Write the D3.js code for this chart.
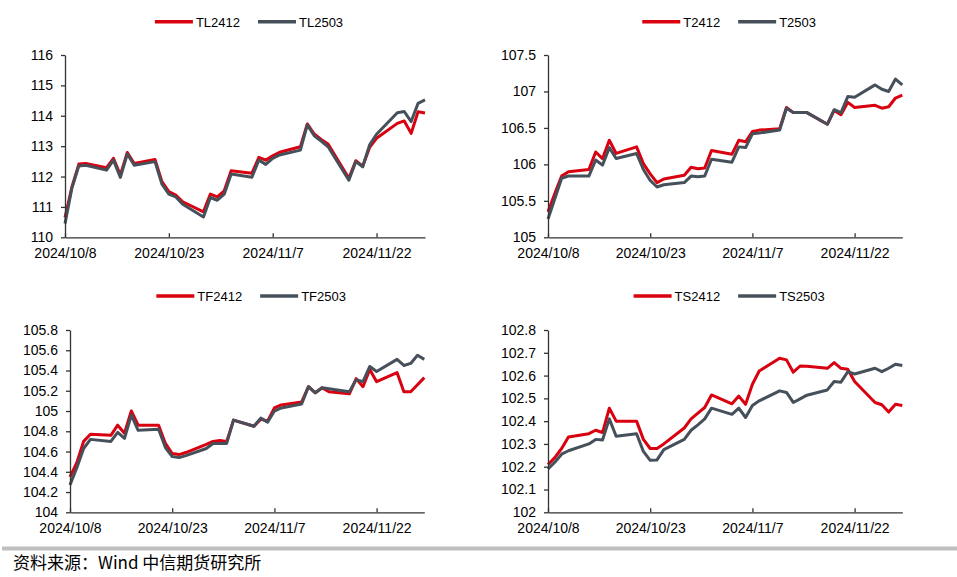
<!DOCTYPE html>
<html><head><meta charset="utf-8">
<script src="https://cdn.jsdelivr.net/npm/d3@7"></script>
<style>body{margin:0;background:#fff}svg{display:block}</style>
</head><body><svg id="c" width="957" height="577"></svg>
<script>
const dates = ["2024-10-08","2024-10-09","2024-10-10","2024-10-11","2024-10-14","2024-10-15","2024-10-16","2024-10-17","2024-10-18",
"2024-10-21","2024-10-22","2024-10-23","2024-10-24","2024-10-25","2024-10-28","2024-10-29","2024-10-30","2024-10-31","2024-11-01",
"2024-11-04","2024-11-05","2024-11-06","2024-11-07","2024-11-08","2024-11-11","2024-11-12","2024-11-13","2024-11-14","2024-11-15",
"2024-11-18","2024-11-19","2024-11-20","2024-11-21","2024-11-22","2024-11-25","2024-11-26","2024-11-27","2024-11-28","2024-11-29"];

const TL2412 = [110.65,111.66,112.41,112.43,112.29,112.60,112.05,112.79,112.43,112.56,111.83,111.50,111.39,111.17,110.84,111.42,111.33,111.53,112.19,
112.11,112.63,112.54,112.68,112.80,112.98,113.73,113.40,113.22,113.07,111.94,112.52,112.34,112.96,113.26,113.75,113.83,113.42,114.13,114.09];
const TL2503 = [110.45,111.62,112.35,112.37,112.21,112.54,111.97,112.74,112.37,112.49,111.75,111.42,111.33,111.09,110.67,111.31,111.22,111.42,112.08,
111.98,112.54,112.40,112.60,112.71,112.87,113.70,113.34,113.17,112.98,111.88,112.49,112.32,113.04,113.39,114.10,114.14,113.81,114.41,114.52];

const T2412 = [105.35,105.60,105.84,105.90,105.93,106.17,106.08,106.33,106.15,106.24,106.01,105.87,105.75,105.80,105.85,105.96,105.94,105.95,106.19,
106.14,106.33,106.31,106.45,106.47,106.49,106.78,106.71,106.71,106.71,106.55,106.74,106.68,106.85,106.78,106.81,106.77,106.79,106.91,106.95];
const T2503 = [105.25,105.53,105.81,105.84,105.84,106.06,105.99,106.23,106.08,106.15,105.93,105.78,105.69,105.72,105.75,105.84,105.83,105.84,106.07,
106.03,106.24,106.23,106.42,106.43,106.47,106.77,106.71,106.71,106.71,106.55,106.75,106.71,106.93,106.92,107.09,107.03,107.00,107.17,107.09];

const TF2412 = [104.35,104.49,104.70,104.77,104.76,104.86,104.78,105.00,104.86,104.86,104.68,104.58,104.57,104.59,104.67,104.70,104.71,104.70,104.91,
104.85,104.92,104.90,105.03,105.06,105.09,105.24,105.18,105.23,105.19,105.17,105.32,105.24,105.41,105.29,105.38,105.19,105.19,105.26,105.33];
const TF2503 = [104.27,104.44,104.63,104.72,104.70,104.79,104.73,104.96,104.81,104.82,104.64,104.55,104.54,104.56,104.63,104.68,104.68,104.68,104.91,
104.85,104.93,104.89,105.00,105.03,105.07,105.24,105.18,105.23,105.22,105.19,105.31,105.29,105.44,105.39,105.51,105.45,105.47,105.55,105.51];

const TS2412 = [102.21,102.24,102.28,102.33,102.345,102.36,102.35,102.457,102.40,102.40,102.32,102.28,102.28,102.30,102.37,102.41,102.435,102.46,102.515,
102.476,102.51,102.474,102.562,102.62,102.676,102.669,102.615,102.642,102.641,102.632,102.657,102.632,102.628,102.574,102.482,102.472,102.44,102.474,102.469];
const TS2503 = [102.19,102.22,102.255,102.27,102.30,102.32,102.317,102.41,102.334,102.345,102.267,102.228,102.23,102.275,102.32,102.36,102.384,102.41,102.457,
102.43,102.457,102.416,102.469,102.489,102.533,102.526,102.482,102.498,102.514,102.537,102.574,102.571,102.617,102.607,102.632,102.617,102.632,102.65,102.644];

const xTickDates = ["2024-10-08","2024-10-23","2024-11-07","2024-11-22"];
const xTickLabels = ["2024/10/8","2024/10/23","2024/11/7","2024/11/22"];
const xDomain = ["2024-10-08","2024-11-29"];

const yTicksTL = [110,111,112,113,114,115,116];
const yTicksT = [105,105.5,106,106.5,107,107.5];
const yTicksTF = [104,104.2,104.4,104.6,104.8,105,105.2,105.4,105.6,105.8];
const yTicksTS = [102,102.1,102.2,102.3,102.4,102.5,102.6,102.7,102.8];

const seriesNames = [["TL2412","TL2503"],["T2412","T2503"],["TF2412","TF2503"],["TS2412","TS2503"]];
const seriesValues = [[TL2412,TL2503],[T2412,T2503],[TF2412,TF2503],[TS2412,TS2503]];
const yTickSets = [yTicksTL,yTicksT,yTicksTF,yTicksTS];
const sourceText = "资料来源：Wind 中信期货研究所";

const colors = ["#d9000f","#46505b"];
const FONT = "'Liberation Sans', Arial, sans-serif";

const svg = d3.select("#c");
const parse = d3.timeParse("%Y-%m-%d");
const dts = dates.map(parse);

const boxes = [
  {l:65, r:425, t:55, b:237.3, ly:21.7},
  {l:548, r:902.3, t:55, b:237.3, ly:21.7},
  {l:70, r:424.3, t:330, b:512.3, ly:296},
  {l:548, r:902.3, t:330, b:512.3, ly:296}
];

boxes.forEach((bx, i) => {
  const g = svg.append("g");
  const yt = yTickSets[i];
  const x = d3.scaleTime().domain(xDomain.map(parse)).range([bx.l, bx.r]);
  const y = d3.scaleLinear().domain([yt[0], yt[yt.length-1]]).range([bx.b, bx.t]);

  const line = d3.line().x((d,k)=>x(dts[k])).y(d=>y(d));
  seriesValues[i].forEach((vals, s) => {
    g.append("path").datum(vals).attr("d", line)
      .attr("fill","none").attr("stroke",colors[s]).attr("stroke-width",3)
      .attr("stroke-linejoin","round");
  });

  const xa = g.append("g").attr("transform",`translate(0,${bx.b})`)
    .call(d3.axisBottom(x).tickValues(xTickDates.map(parse))
      .tickFormat((d,k)=>xTickLabels[k]).tickSizeInner(-4).tickSizeOuter(0).tickPadding(11));
  const ya = g.append("g").attr("transform",`translate(${bx.l},0)`)
    .call(d3.axisLeft(y).tickValues(yt).tickFormat(d=>String(+d.toFixed(2)))
      .tickSizeInner(4).tickSizeOuter(0).tickPadding(8));
  [xa, ya].forEach(a => {
    a.selectAll("path,line").attr("stroke","#333").attr("stroke-width",1.3);
    a.selectAll("text").attr("font-family",FONT).attr("font-size",14).attr("fill","#000");
  });

  // legend
  const lg = g.append("g");
  const items = seriesNames[i].map((nm, s) => {
    const it = lg.append("g");
    it.append("line").attr("x1",0).attr("x2",38).attr("y1",0).attr("y2",0)
      .attr("stroke",colors[s]).attr("stroke-width",3.5);
    const t = it.append("text").attr("x",41).attr("y",5).text(nm)
      .attr("font-family",FONT).attr("font-size",13).attr("fill","#000");
    return {it, w: 41 + t.node().getComputedTextLength()};
  });
  const gap = 18;
  const total = items[0].w + gap + items[1].w;
  let x0 = (bx.l + bx.r)/2 + 4 - total/2;
  items.forEach(o => { o.it.attr("transform",`translate(${x0},${bx.ly})`); x0 += o.w + gap; });
});

svg.append("rect").attr("x",2).attr("y",546.5).attr("width",955).attr("height",4).attr("fill","#bfbfbf");
svg.append("text").attr("x",13).attr("y",569).text(sourceText)
  .attr("font-family","'Noto Sans CJK SC', sans-serif").attr("font-size",17).attr("fill","#000");
</script></body></html>
